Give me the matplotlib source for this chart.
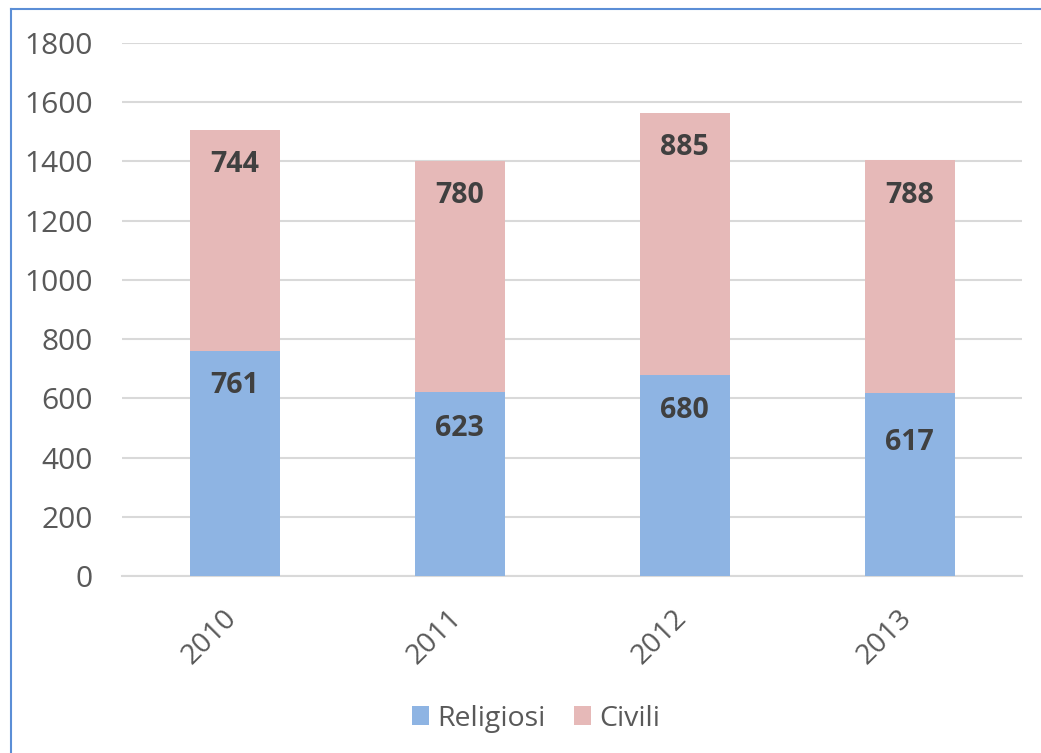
import numpy as np
import matplotlib.pyplot as plt
from matplotlib.lines import Line2D
from matplotlib.transforms import ScaledTranslation

years = ['2010', '2011', '2012', '2013']
religiosi = [761, 623, 680, 617]
civili = [744, 780, 885, 788]
# label heights as placed in the original chart (data units)
rel_label_y = [645, 497, 560, 450]
civ_label_y = [1390, 1285, 1448, 1286]

blue = '#8EB4E3'
pink = '#E6B9B8'
tick_col = '#595959'
lab_col = '#404040'

plt.rcParams['font.family'] = ['Open Sans', 'DejaVu Sans']

fig = plt.figure(figsize=(10.41, 7.53), dpi=100)
ax = fig.add_axes([0.1172, 0.235, 0.8646, 0.708])

x = np.arange(len(years))
ax.bar(x, religiosi, width=0.4, color=blue, label='Religiosi', zorder=3)
ax.bar(x, civili, width=0.4, bottom=religiosi, color=pink, label='Civili', zorder=3)

for i in range(len(years)):
    ax.text(x[i], rel_label_y[i], str(religiosi[i]), ha='center', va='center',
            fontsize=20.5, fontweight='bold', color=lab_col, zorder=4)
    ax.text(x[i], civ_label_y[i], str(civili[i]), ha='center', va='center',
            fontsize=20.5, fontweight='bold', color=lab_col, zorder=4)

ax.set_xlim(-0.5, 3.5)
ax.set_ylim(0, 1800)
ax.set_yticks(np.arange(0, 1801, 200))
ax.yaxis.grid(True, color='#D9D9D9', linewidth=1.5, zorder=0)
ax.set_axisbelow(True)
for s in ['top', 'right', 'left']:
    ax.spines[s].set_visible(False)
ax.spines['bottom'].set_color('#D9D9D9')
ax.spines['bottom'].set_linewidth(1.5)

ax.tick_params(axis='y', length=0, pad=21, labelsize=21.5, labelcolor=tick_col)
ax.tick_params(axis='x', length=0, pad=20, labelsize=20.5, labelcolor=tick_col)
ax.set_xticks(x)
ax.set_xticklabels(years, rotation=45, ha='right', va='top')
for lab in ax.get_xticklabels():
    lab.set_transform(lab.get_transform() + ScaledTranslation(6 / 72, 0, fig.dpi_scale_trans))

ax.legend(loc='upper center', bbox_to_anchor=(0.46, -0.193), ncol=2, frameon=False,
          fontsize=20.5, labelcolor=tick_col, handlelength=0.6, handleheight=0.6,
          handletextpad=0.3, columnspacing=1.0)

# chart border (only left and top visible in the crop)
fig.add_artist(Line2D([0.0101, 0.0101], [0, 0.988], color='#5B8ED6', linewidth=1.5))
fig.add_artist(Line2D([0.0101, 1.0], [0.988, 0.988], color='#5B8ED6', linewidth=1.5))

fig.savefig('out.png', dpi=100)
